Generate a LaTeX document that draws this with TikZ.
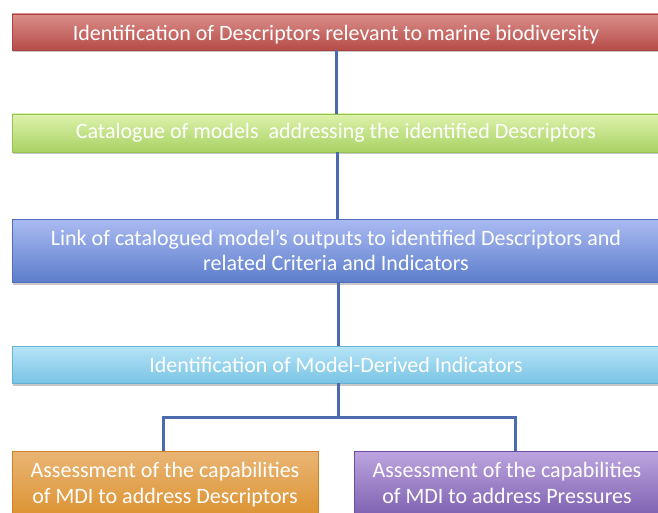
\documentclass[tikz,border=0pt]{standalone}
\usepackage{fontspec}
\setmainfont{Carlito}
\usetikzlibrary{shadows}
\definecolor{r1}{HTML}{DA8E8A}
\definecolor{r2}{HTML}{B64C48}
\definecolor{r3}{HTML}{A8433F}
\definecolor{g1}{HTML}{DDF2AC}
\definecolor{g2}{HTML}{A9D264}
\definecolor{g3}{HTML}{98C055}
\definecolor{b1}{HTML}{AABBF2}
\definecolor{b2}{HTML}{5D7DCB}
\definecolor{b3}{HTML}{4E6EBB}
\definecolor{c1}{HTML}{B6E4F6}
\definecolor{c2}{HTML}{7AC4E5}
\definecolor{c3}{HTML}{67B2D4}
\definecolor{o1}{HTML}{E9B575}
\definecolor{o2}{HTML}{DC912D}
\definecolor{o3}{HTML}{CC8225}
\definecolor{p1}{HTML}{BCA5DF}
\definecolor{p2}{HTML}{7B5CAE}
\definecolor{p3}{HTML}{6B4E9E}
\definecolor{linkblue}{HTML}{4B6BAE}
\tikzset{
  stage/.style={rectangle, inner sep=0pt, align=center, text=white,
    font=\fontsize{22}{25.5}\selectfont, line width=0.6pt,
    drop shadow={shadow xshift=1pt, shadow yshift=-2.5pt, opacity=0.3, fill=black!70}},
  red stage/.style={stage, top color=r1, bottom color=r2, draw=r3},
  green stage/.style={stage, top color=g1, bottom color=g2, draw=g3},
  blue stage/.style={stage, top color=b1, bottom color=b2, draw=b3},
  cyan stage/.style={stage, top color=c1, bottom color=c2, draw=c3},
  orange stage/.style={stage, top color=o1, bottom color=o2, draw=o3},
  purple stage/.style={stage, top color=p1, bottom color=p2, draw=p3},
  link/.style={draw=linkblue, line width=3pt},
}
\begin{document}
\begin{tikzpicture}[x=1pt,y=1pt]
\fill[white] (0,0) rectangle (658,-513);
\clip (0,0) rectangle (658,-513);
\node[red stage, minimum width=648pt, minimum height=36pt] (desc) at (336,-32) {\raisebox{-3pt}[\height][\depth]{Identification of Descriptors relevant to marine biodiversity}};
\node[green stage, minimum width=648pt, minimum height=38pt] (cat) at (336,-133) {Catalogue of models\ \ addressing the identified Descriptors};
\node[blue stage, minimum width=648pt, minimum height=63pt] (link) at (336,-250.5) {Link of catalogued model’s outputs to identified Descriptors and\\related Criteria and Indicators};
\node[cyan stage, minimum width=648pt, minimum height=37pt] (mdi) at (336,-364.5) {Identification of Model-Derived Indicators};
\node[orange stage, minimum width=306pt, minimum height=69pt] (ad) at (165,-485.5) {Assessment of the capabilities\strut\\of MDI to address Descriptors\strut};
\node[purple stage, minimum width=306pt, minimum height=69pt] (ap) at (507,-485.5) {Assessment of the capabilities\strut\\of MDI to address Pressures\strut};
\coordinate (j) at (338,-417);
\draw[link] (desc.south) -- (cat.north);
\draw[link] ([xshift=1pt]cat.south) -- ([xshift=1pt]link.north);
\draw[link] ([xshift=2pt]link.south) -- ([xshift=2pt]mdi.north);
\draw[link] ([xshift=2pt]mdi.south) -- (j);
\draw[link] (j) -| ([xshift=-2pt]ad.north);
\draw[link] (j) -| ([xshift=8pt]ap.north);
\end{tikzpicture}
\end{document}
